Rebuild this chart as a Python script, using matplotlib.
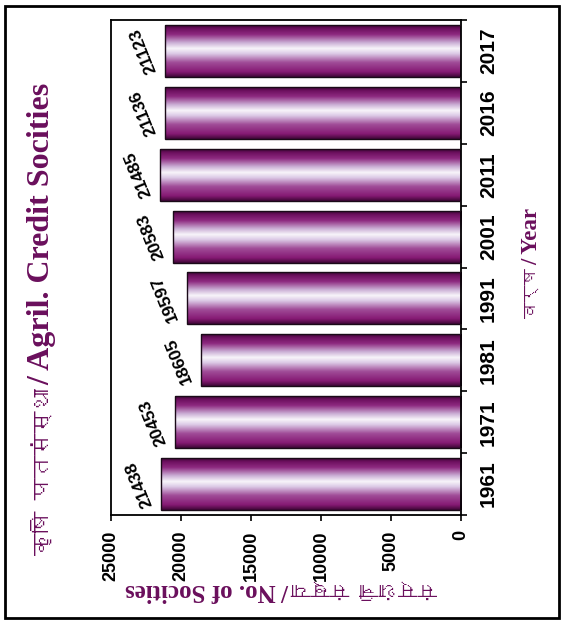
import numpy as np
import matplotlib
matplotlib.use("Agg")
import matplotlib.pyplot as plt
from matplotlib import font_manager as fm
from matplotlib.colors import LinearSegmentedColormap
from matplotlib.patches import Rectangle
from matplotlib.ticker import FixedLocator

# ---- data ----
years = ["1961", "1971", "1981", "1991", "2001", "2011", "2016", "2017"]
societies = [21438, 20453, 18605, 19597, 20583, 21485, 21136, 21123]
x_ticks = [0, 5000, 10000, 15000, 20000, 25000]
title_hi, title_en = "कृषि पतसंस्था", "/ Agril. Credit Socities"
xlabel_hi, xlabel_en = "संस्थांची संख्या", "/ No. of Socities"
ylabel_hi, ylabel_en = "वर्ष", "/ Year"

# ---- fonts ----
names = {f.name for f in fm.fontManager.ttflist}
num_font = "Liberation Sans Narrow" if "Liberation Sans Narrow" in names else "Liberation Sans"
deva = None
try:
    from matplotlib.ft2font import FT2Font
    for f in fm.fontManager.ttflist:
        try:
            if 0x0915 in FT2Font(f.fname).get_charmap():
                deva = f.name
                break
        except Exception:
            pass
except Exception:
    pass
serif_fam = ["Liberation Serif"] + ([deva] if deva else []) + ["DejaVu Sans"]
deva_fam = ([deva] if deva else []) + ["Liberation Serif", "DejaVu Sans"]

purple = "#6a0f5c"

fig = plt.figure(figsize=(5.63, 6.23), dpi=100, facecolor="white")
ax = fig.add_axes([111 / 563, 1 - 515 / 623, 350 / 563, 495 / 623])

pos = np.arange(len(years))
bars = ax.barh(pos, societies, height=0.84, facecolor="none",
               edgecolor="#1a0a18", linewidth=1.0, zorder=3)

cmap = LinearSegmentedColormap.from_list("cyl", [
    (0.00, "#3e0636"),
    (0.10, "#861a74"),
    (0.28, "#a04c98"),
    (0.45, "#dccae6"),
    (0.55, "#f8f5fa"),
    (0.66, "#cbb0d6"),
    (0.82, "#8e2a80"),
    (0.93, "#6e1060"),
    (1.00, "#3e0636"),
])
grad = np.linspace(1, 0, 256).reshape(-1, 1)
for b in bars:
    x0, y0 = b.get_x(), b.get_y()
    w, h = b.get_width(), b.get_height()
    im = ax.imshow(grad, cmap=cmap, aspect="auto", origin="upper",
                   extent=[x0, x0 + w, y0, y0 + h], zorder=2,
                   interpolation="bilinear")
    im.set_clip_path(b)

for i, v in enumerate(societies):
    ax.annotate(f"{v}", xy=(v, pos[i]), xytext=(-22, 0), textcoords="offset pixels",
                ha="center", va="center", rotation=112,
                fontsize=12.5, fontweight="bold", family=num_font, color="black")

ax.set_xlim(25000, 0)
ax.set_ylim(-0.5, len(years) - 0.5)
ax.set_xticks(x_ticks)
ax.set_xticklabels([str(t) for t in x_ticks], rotation=90,
                   fontsize=13, fontweight="bold", family=num_font)
ax.tick_params(axis="x", direction="out", length=4, width=1.2, pad=7)

ax.yaxis.tick_right()
ax.set_yticks(pos)
ax.set_yticklabels(years, rotation=90, fontsize=15, fontweight="bold",
                   family=num_font, va="center")
ax.yaxis.set_minor_locator(FixedLocator(np.arange(-0.5, len(years), 1.0)))
ax.tick_params(axis="y", which="major", length=0, pad=13)
ax.tick_params(axis="y", which="minor", direction="out", length=4.5, width=1.2,
               right=True, left=False)

for s in ax.spines.values():
    s.set_linewidth(1.3)
    s.set_color("black")

# title (left, reads bottom-to-top)
fig.text(42 / 563, 1 - 83 / 623, title_en, rotation=90, ha="center", va="top",
         fontsize=23, fontweight="bold", family=serif_fam, color=purple)
fig.text(42 / 563, 1 - 555 / 623, title_hi, rotation=90, ha="center", va="bottom",
         fontsize=16, fontweight="bold", family=deva_fam, color=purple)
# category axis title (right)
fig.text(532 / 563, 1 - 208 / 623, ylabel_en, rotation=90, ha="center", va="top",
         fontsize=16.5, fontweight="bold", family=serif_fam, color=purple)
fig.text(532 / 563, 1 - 318 / 623, ylabel_hi, rotation=90, ha="center", va="bottom",
         fontsize=12, fontweight="bold", family=deva_fam, color=purple)
# value axis title (bottom, upside down)
fig.text(125 / 563, 1 - 590 / 623, xlabel_en, rotation=180, ha="left", va="center",
         fontsize=18, fontweight="bold", family=serif_fam, color=purple)
fig.text(437 / 563, 1 - 590 / 623, xlabel_hi, rotation=180, ha="right", va="center",
         fontsize=14, fontweight="bold", family=deva_fam, color=purple)

fig.patches.append(Rectangle((5 / 563, 1 - 618 / 623), 554 / 563, 612 / 623,
                             transform=fig.transFigure, fill=False,
                             edgecolor="black", linewidth=2))

fig.savefig("out.png", dpi=100, facecolor="white")
